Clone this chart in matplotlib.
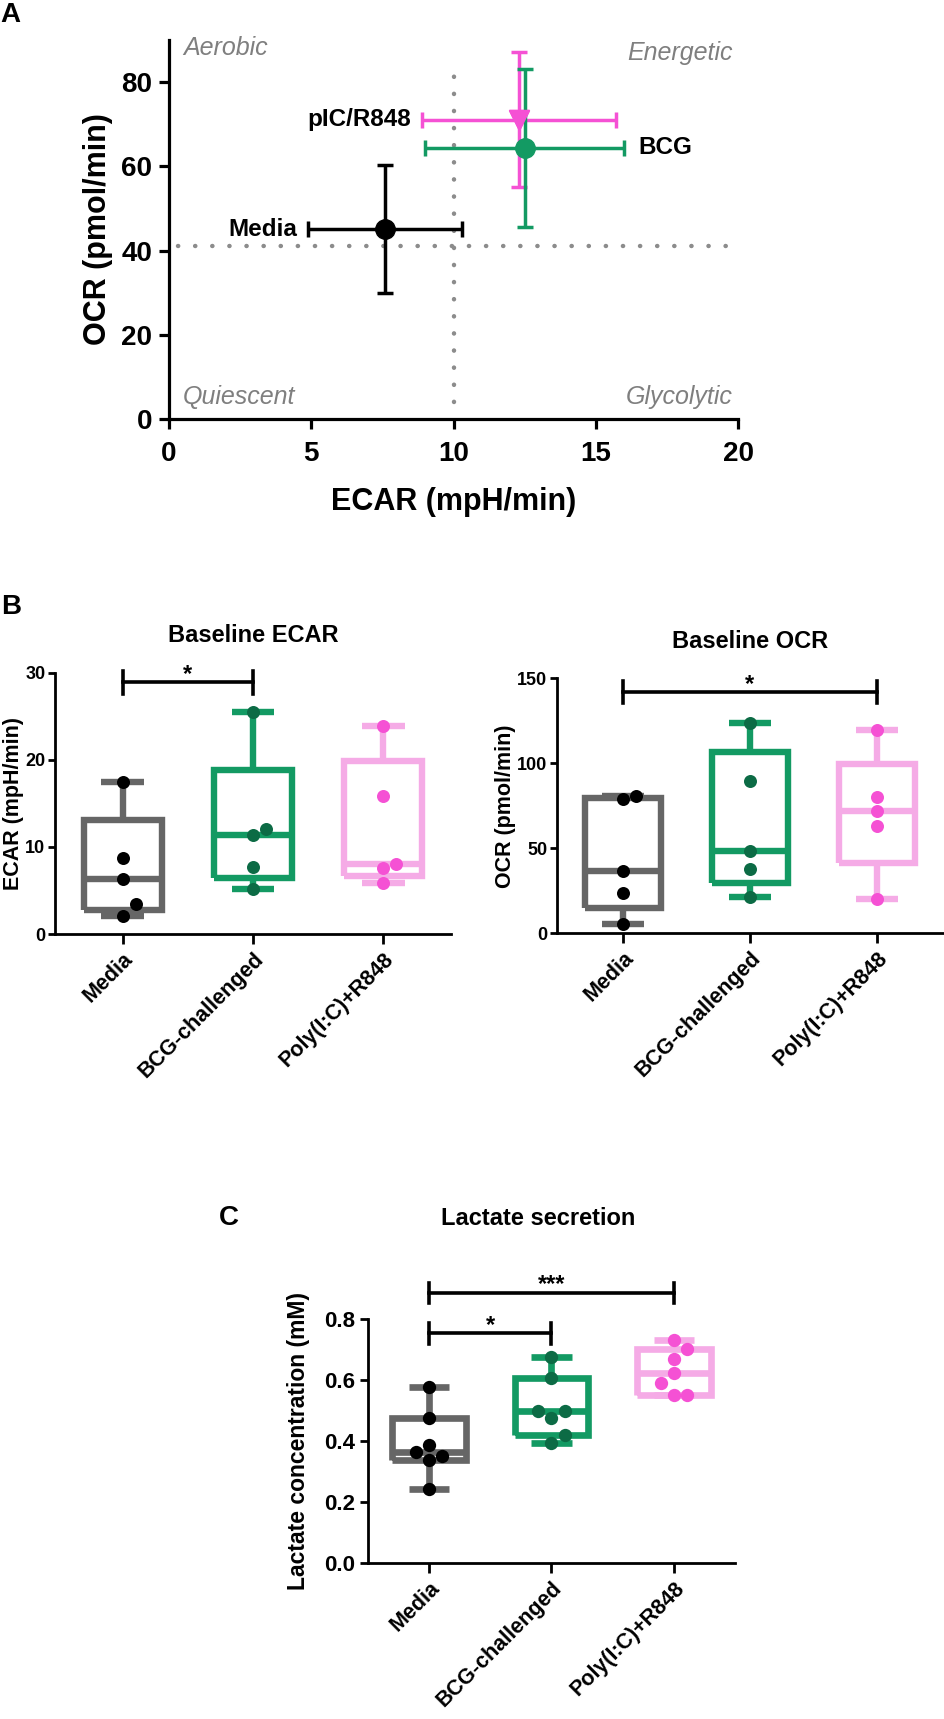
import matplotlib.pyplot as plt
import numpy as np

plt.rcParams['font.family'] = ['Liberation Sans', 'DejaVu Sans']
plt.rcParams['font.weight'] = 'bold'
plt.rcParams['axes.labelweight'] = 'bold'
plt.rcParams['axes.titleweight'] = 'bold'

# ---- panel A: energy map, mean +/- SD
groups_a = ['Media', 'BCG', 'pIC/R848']
ecar_mean = [7.6, 12.5, 12.3]
ecar_sd = [2.7, 3.5, 3.4]
ocr_mean = [45.1, 64.4, 71.1]
ocr_sd = [15.2, 18.8, 16.0]
ecar_cut = 10.0
ocr_cut = 41.0
quadrants = ['Aerobic', 'Energetic', 'Quiescent', 'Glycolytic']

# ---- panel B: baseline ECAR / OCR per donor
categories = ['Media', 'BCG-challenged', 'Poly(I:C)+R848']
ecar_media = [17.4, 8.7, 6.3, 3.4, 2.1]
ecar_bcg = [25.5, 12.1, 11.4, 7.7, 5.2]
ecar_poly = [23.9, 15.8, 8.0, 7.6, 5.8]
ocr_media = [80.8, 78.8, 36.6, 23.9, 5.3]
ocr_bcg = [123.9, 89.4, 48.2, 37.8, 21.5]
ocr_poly = [119.6, 80.0, 71.8, 63.1, 20.0]

# ---- panel C: lactate
lac_media = [0.579, 0.475, 0.388, 0.364, 0.352, 0.339, 0.244]
lac_bcg = [0.675, 0.607, 0.500, 0.500, 0.477, 0.421, 0.393]
lac_poly = [0.732, 0.702, 0.669, 0.623, 0.592, 0.551, 0.551]

box_colors = ['#666666', '#139a63', '#f5abe6']
point_colors = ['#000000', '#0c6b45', '#f551d4']
a_colors = ['#000000', '#139a63', '#f551d4']
a_markers = ['o', 'o', 'v']

W, H = 945, 1719
fig = plt.figure(figsize=(W / 100, H / 100), dpi=100)


def axes_px(left, top, right, bottom):
    # axes rectangle given in pixels of the final image
    return fig.add_axes([left / W, 1 - bottom / H, (right - left) / W, (bottom - top) / H])


def style_axes(ax, lw, tick_len, labelsize):
    for s in ['top', 'right']:
        ax.spines[s].set_visible(False)
    for s in ['left', 'bottom']:
        ax.spines[s].set_linewidth(lw)
    ax.tick_params(width=lw, length=tick_len, labelsize=labelsize)


def swarm_offsets(ax, values, diam):
    # spread points sideways so that markers do not overlap (pixel space)
    pos = ax.get_position()
    x0, x1 = ax.get_xlim()
    y0, y1 = ax.get_ylim()
    sx = pos.width * W / (x1 - x0)
    sy = pos.height * H / (y1 - y0)
    placed = []
    offs = np.zeros(len(values))
    for i in np.argsort(values):
        y = values[i] * sy
        for k in [0, 1, -1, 2, -2, 3, -3]:
            x = k * diam
            if all(np.hypot(x - px, y - py) >= diam * 0.95 for px, py in placed):
                break
        placed.append((x, y))
        offs[i] = x / sx
    return offs


def box_panel(ax, data, lw, ms_px):
    stats = []
    for vals in data:
        q1, med, q3 = np.percentile(vals, [25, 50, 75], method='weibull')
        stats.append(dict(med=med, q1=q1, q3=q3, whislo=min(vals), whishi=max(vals)))
    bp = ax.bxp(stats, positions=range(len(data)), widths=0.6, capwidths=0.33,
                showfliers=False, patch_artist=False)
    for i, c in enumerate(box_colors):
        for key in ['boxes', 'medians']:
            bp[key][i].set(color=c, linewidth=lw, solid_capstyle='butt', solid_joinstyle='miter')
        for key in ['whiskers', 'caps']:
            for ln in bp[key][2 * i:2 * i + 2]:
                ln.set(color=c, linewidth=lw, solid_capstyle='butt')
    for i, vals in enumerate(data):
        offs = swarm_offsets(ax, vals, ms_px)
        ax.scatter(i + offs, vals, s=(ms_px * 0.72) ** 2, color=point_colors[i],
                   zorder=5, linewidths=0)


def bracket(ax, x0, x1, y, h, label, size):
    ax.plot([x0, x1], [y, y], color='black', lw=2.6, clip_on=False)
    ax.plot([x0, x0], [y - h, y + h], color='black', lw=2.6, clip_on=False)
    ax.plot([x1, x1], [y - h, y + h], color='black', lw=2.6, clip_on=False)
    ax.annotate(label, xy=((x0 + x1) / 2, y), xytext=(0, 1), textcoords='offset points',
                ha='center', va='baseline', fontsize=size, annotation_clip=False)


# ================= Panel A =================
axA = axes_px(169, 40, 738, 419)
axA.set_xlim(0, 20)
axA.set_ylim(0, 90)
style_axes(axA, 2.3, 7, 20)
axA.set_xticks([0, 5, 10, 15, 20])
axA.set_yticks([0, 20, 40, 60, 80])
axA.tick_params(axis='y', pad=5)
axA.tick_params(axis='x', pad=9)
axA.set_xlabel('ECAR (mpH/min)', fontsize=22, labelpad=14)
axA.set_ylabel('OCR (pmol/min)', fontsize=22, labelpad=6)

dots = dict(color='#8c8c8c', lw=3.2, linestyle=(0, (0.05, 3.8)), dash_capstyle='round', zorder=1)
axA.plot([ecar_cut, ecar_cut], [4, 85], **dots)
axA.plot([0.3, 20], [ocr_cut, ocr_cut], **dots)

for i in [2, 1, 0]:
    axA.errorbar(ecar_mean[i], ocr_mean[i], xerr=ecar_sd[i], yerr=ocr_sd[i],
                 fmt=a_markers[i], color=a_colors[i], mec=a_colors[i], ms=14,
                 elinewidth=2.5, capsize=5.5, capthick=2.5, zorder=3 + (i == 1))
axA.plot(ecar_mean[2], ocr_mean[2], 'v', color=a_colors[2], ms=15, zorder=6)

axA.annotate(groups_a[0], xy=(ecar_mean[0] - ecar_sd[0], ocr_mean[0]), xytext=(-8, 0),
             textcoords='offset points', ha='right', va='center', fontsize=17.5)
axA.annotate(groups_a[2], xy=(ecar_mean[2] - ecar_sd[2], ocr_mean[2]), xytext=(-8, 0),
             textcoords='offset points', ha='right', va='center', fontsize=17.5)
axA.annotate(groups_a[1], xy=(ecar_mean[1] + ecar_sd[1], ocr_mean[1]), xytext=(10, 0),
             textcoords='offset points', ha='left', va='center', fontsize=17.5)

qstyle = dict(fontsize=18, style='italic', fontweight='normal', color='#7f7f7f', va='center')
axA.text(0.5, 88, quadrants[0], ha='left', **qstyle)
axA.text(19.8, 87, quadrants[1], ha='right', **qstyle)
axA.text(0.5, 5.2, quadrants[2], ha='left', **qstyle)
axA.text(19.8, 5.2, quadrants[3], ha='right', **qstyle)

# ================= Panel B =================
axB1 = axes_px(55, 672.7, 451, 934)
axB1.set_xlim(-0.52, 2.52)
axB1.set_ylim(0, 30)
style_axes(axB1, 2.0, 5, 13)
axB1.set_yticks([0, 10, 20, 30])
axB1.tick_params(axis='y', pad=2)
box_panel(axB1, [ecar_media, ecar_bcg, ecar_poly], 4.6, 13)
axB1.set_ylabel('ECAR (mpH/min)', fontsize=15.5, labelpad=1)
axB1.set_title('Baseline ECAR', fontsize=17, pad=22)
bracket(axB1, 0, 1, 28.9, 1.3, '*', 17)

axB2 = axes_px(557, 678.3, 943, 933.3)
axB2.set_xlim(-0.52, 2.52)
axB2.set_ylim(0, 150)
style_axes(axB2, 2.0, 5, 13)
axB2.set_yticks([0, 50, 100, 150])
axB2.tick_params(axis='y', pad=2)
box_panel(axB2, [ocr_media, ocr_bcg, ocr_poly], 4.6, 13)
axB2.set_ylabel('OCR (pmol/min)', fontsize=15.5, labelpad=1)
axB2.set_title('Baseline OCR', fontsize=17, pad=22)
bracket(axB2, 0, 2, 141.8, 6.4, '*', 17)

for ax in [axB1, axB2]:
    ax.set_xticks(range(3))
    ax.set_xticklabels(categories, rotation=45, ha='right', rotation_mode='anchor',
                       fontsize=15.5)
    ax.tick_params(axis='x', length=7)

# ================= Panel C =================
axC = axes_px(368, 1319.3, 735, 1563.3)
axC.set_xlim(-0.5, 2.5)
axC.set_ylim(0, 0.8)
style_axes(axC, 2.0, 6, 16)
axC.set_yticks([0, 0.2, 0.4, 0.6, 0.8])
axC.set_yticklabels([f'{v:.1f}' for v in [0, 0.2, 0.4, 0.6, 0.8]])
box_panel(axC, [lac_media, lac_bcg, lac_poly], 4.8, 13.3)
axC.set_ylabel('Lactate concentration (mM)', fontsize=16.5, labelpad=10)
axC.set_title('Lactate secretion', fontsize=17, pad=68, x=0.465)
axC.set_xticks(range(3))
axC.set_xticklabels(categories, rotation=45, ha='right', rotation_mode='anchor', fontsize=15.5)
axC.tick_params(axis='x', length=7)
bracket(axC, 0, 1, 0.754, 0.035, '*', 17)
bracket(axC, 0, 2, 0.887, 0.033, '***', 17)

# panel letters
fig.text(10 / W, 1 - 15 / H, 'A', fontsize=20, ha='center', va='center')
fig.text(11 / W, 1 - 607 / H, 'B', fontsize=20, ha='center', va='center')
fig.text(229 / W, 1 - 1218 / H, 'C', fontsize=20, ha='center', va='center')

fig.savefig('out.png', dpi=100)
